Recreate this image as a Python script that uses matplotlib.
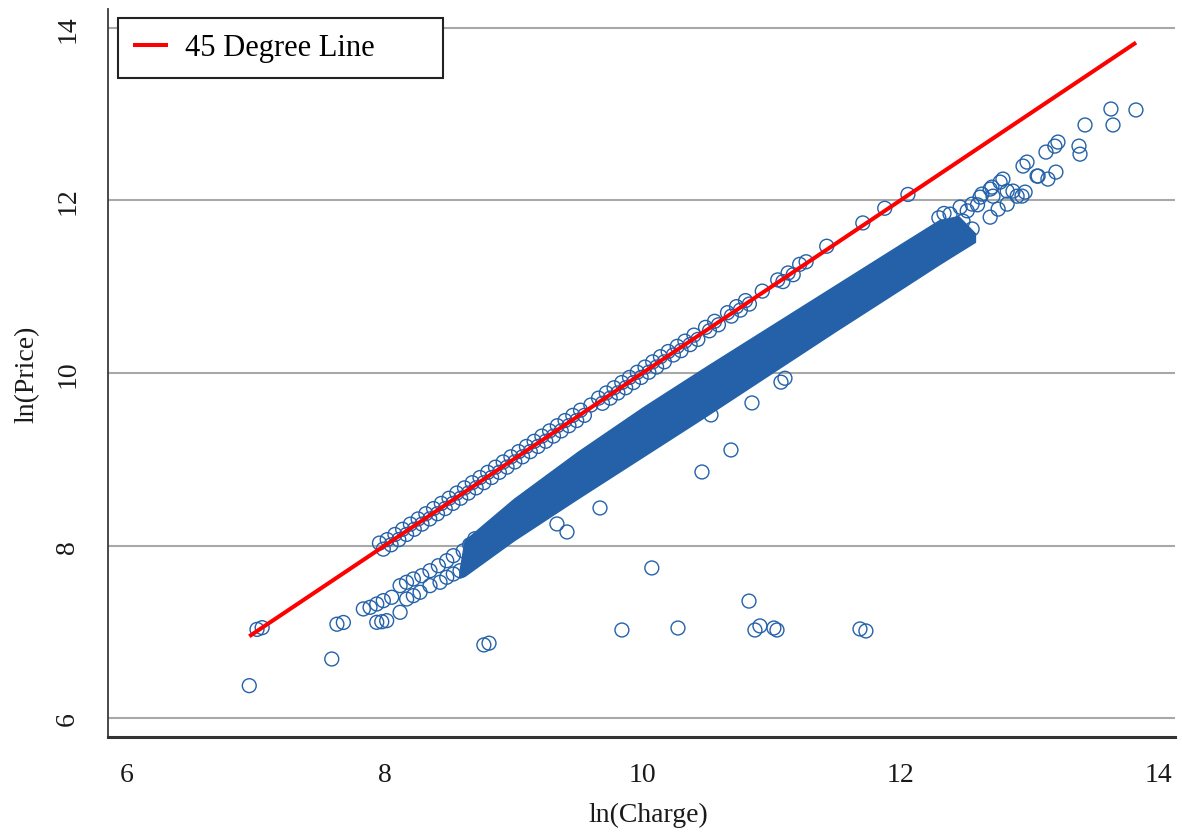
import matplotlib
matplotlib.use("Agg")
import matplotlib.pyplot as plt

plt.rcParams['font.family'] = ['Liberation Serif', 'DejaVu Serif']

# ---------------- data ----------------
# Dense main band: outer envelope of the overlapping circles, ln(Charge) -> ln(Price)
band_x     = [8.58, 8.62, 9.00, 9.50, 10.00, 10.50, 11.00, 11.50, 12.00, 12.30, 12.45, 12.58]
band_upper = [7.70, 8.06, 8.54, 9.09, 9.60, 10.08, 10.55, 11.02, 11.49, 11.77, 11.82, 11.62]
band_lower = [7.63, 7.65, 8.06, 8.55, 9.03, 9.51, 10.00, 10.49, 10.97, 11.26, 11.40, 11.52]

# Points lying on / near the 45 degree line
line_pts_x = [7.01, 7.05,
              7.96, 7.99, 8.02, 8.05, 8.08, 8.11, 8.14, 8.17, 8.20, 8.23, 8.26, 8.29, 8.32, 8.35,
              8.38, 8.41, 8.44, 8.47, 8.50, 8.53, 8.56, 8.59, 8.62, 8.65, 8.68, 8.71, 8.74, 8.77,
              8.80, 8.83, 8.86, 8.89, 8.92, 8.95, 8.98, 9.01, 9.04, 9.07, 9.10, 9.13, 9.16, 9.19,
              9.22, 9.25, 9.28, 9.31, 9.34, 9.37, 9.40, 9.43, 9.46, 9.49, 9.52, 9.55, 9.60, 9.66,
              9.69, 9.72, 9.75, 9.78, 9.81, 9.84, 9.87, 9.90, 9.93, 9.96, 9.99, 10.02, 10.05,
              10.08, 10.11, 10.14, 10.17, 10.20, 10.24, 10.27, 10.30, 10.33, 10.37, 10.40, 10.43,
              10.49, 10.52, 10.56, 10.59, 10.66, 10.69, 10.73, 10.76, 10.80, 10.83, 10.93,
              11.05, 11.09, 11.13, 11.17, 11.22, 11.27, 11.43, 11.71, 11.88, 12.06]
line_pts_y = [7.03, 7.05,
              8.03, 7.96, 8.07, 8.01, 8.13, 8.07, 8.19, 8.13, 8.25, 8.19, 8.31, 8.25, 8.37, 8.31,
              8.43, 8.37, 8.49, 8.43, 8.55, 8.49, 8.61, 8.55, 8.67, 8.61, 8.73, 8.67, 8.79, 8.73,
              8.85, 8.79, 8.91, 8.85, 8.97, 8.91, 9.03, 8.97, 9.09, 9.03, 9.15, 9.09, 9.21, 9.15,
              9.27, 9.21, 9.33, 9.27, 9.39, 9.33, 9.45, 9.39, 9.51, 9.45, 9.57, 9.51, 9.63, 9.71,
              9.65, 9.77, 9.71, 9.83, 9.77, 9.89, 9.83, 9.95, 9.89, 10.01, 9.95, 10.07, 10.01,
              10.13, 10.07, 10.19, 10.13, 10.25, 10.21, 10.31, 10.26, 10.37, 10.33, 10.44, 10.39,
              10.53, 10.49, 10.60, 10.56, 10.70, 10.66, 10.77, 10.73, 10.84, 10.80, 10.95,
              11.08, 11.06, 11.16, 11.14, 11.26, 11.29, 11.47, 11.74, 11.91, 12.07]

# Scattered circles at the lower-left start of the band
low_start_x = [7.835, 7.887, 7.939, 7.990, 8.055, 8.120, 8.170, 8.223, 8.288, 8.352, 8.417, 8.482, 8.533,
               7.939, 7.978, 8.016, 8.120, 8.171, 8.223, 8.275, 8.352, 8.430, 8.482, 8.533, 8.585,
               8.610, 8.660, 8.700]
low_start_y = [7.267, 7.286, 7.324, 7.363, 7.402, 7.537, 7.576, 7.614, 7.652, 7.710, 7.768, 7.826, 7.884,
               7.112, 7.119, 7.131, 7.228, 7.382, 7.421, 7.460, 7.537, 7.576, 7.634, 7.672, 7.710,
               7.940, 8.010, 8.080]

# Scattered circles at the upper-right end of the band
high_end_x = [12.387, 12.465, 12.558, 12.620, 12.698, 12.775, 12.720, 12.830, 12.907, 12.969, 12.984,
              13.062, 12.487, 12.558, 12.698, 12.760, 12.830, 12.410, 12.441, 12.634, 12.712, 12.797,
              12.875, 12.945, 12.953, 13.070, 13.146, 13.208, 13.131, 13.200, 13.224, 13.387, 13.395,
              13.434, 13.651, 13.635, 13.829, 12.300, 12.340, 12.520, 12.600]
high_end_y = [11.842, 11.923, 11.958, 12.039, 12.132, 12.213, 12.050, 12.109, 12.050, 12.097, 12.445,
              12.283, 11.761, 11.670, 11.807, 11.900, 11.958, 11.642, 11.573, 12.074, 12.155, 12.248,
              12.109, 12.051, 12.399, 12.283, 12.248, 12.329, 12.561, 12.630, 12.677, 12.630, 12.537,
              12.875, 12.875, 13.060, 13.049, 11.800, 11.850, 11.880, 11.950]

# Isolated outliers
out_x = [6.95, 7.59, 7.63, 7.68, 8.77, 8.81, 9.337, 9.415, 9.671, 10.073, 9.841, 10.276, 10.827,
         10.873, 10.912, 11.020, 11.044, 11.688, 11.734, 10.462, 10.687, 10.850, 10.532, 11.075, 11.106]
out_y = [6.378, 6.687, 7.090, 7.110, 6.850, 6.870, 8.252, 8.159, 8.437, 7.742, 7.023, 7.046, 7.358,
         7.023, 7.070, 7.046, 7.023, 7.035, 7.012, 8.854, 9.109, 9.654, 9.515, 9.895, 9.940]

ref_line = [6.95, 13.83]           # 45 degree line end points (ln Charge = ln Price)

xticks = [6, 8, 10, 12, 14]
yticks = [6, 8, 10, 12, 14]

# ---------------- drawing ----------------
blue = '#2461a8'
fig = plt.figure(figsize=(11.82, 8.37), dpi=100)
ax = fig.add_axes([108 / 1182, 99 / 837, (1175 - 108) / 1182, (827 - 99) / 837])

ax.fill_between(band_x, band_lower, band_upper, facecolor=blue, edgecolor=blue, linewidth=1.0, zorder=2)
mk = dict(s=100, facecolors='none', edgecolors=blue, linewidths=1.0, zorder=3)
ax.scatter(line_pts_x, line_pts_y, **mk)
ax.scatter(low_start_x, low_start_y, **mk)
ax.scatter(high_end_x, high_end_y, **mk)
ax.scatter(out_x, out_y, **mk)

ax.plot(ref_line, ref_line, color='#ff0000', lw=2.9, zorder=4, label='45 Degree Line',
        solid_capstyle='butt')

ax.set_xlim(5.854, 14.132)
ax.set_ylim(5.783, 14.219)
ax.set_xticks(xticks)
ax.set_yticks(yticks)
ax.yaxis.grid(True, color='#a8a8a8', lw=1.5)
ax.set_axisbelow(True)

for s in ['top', 'right']:
    ax.spines[s].set_visible(False)
ax.spines['left'].set_color('#3a3a3a')
ax.spines['left'].set_linewidth(1.3)
ax.spines['bottom'].set_color('#333333')
ax.spines['bottom'].set_linewidth(2.2)

ax.tick_params(axis='both', length=0, labelsize=20, colors='#1a1a1a')
ax.tick_params(axis='x', pad=18)
ax.tick_params(axis='y', pad=20)
for lbl in ax.get_yticklabels():
    lbl.set_rotation(90)
    lbl.set_va('center')

ax.set_xlabel('ln(Charge)', fontsize=20, color='#1a1a1a')
ax.set_ylabel('ln(Price)', fontsize=20, color='#1a1a1a')
ax.xaxis.set_label_coords(0.506, -0.089)
ax.yaxis.set_label_coords(-0.064, 0.5)

leg = ax.legend(loc='upper left',
                bbox_to_anchor=(118 / 1182, 1 - 19 / 837 - 0.01, (443 - 118) / 1182, 0.01),
                bbox_transform=fig.transFigure, mode='expand', borderaxespad=0,
                fontsize=22, handlelength=1.15, handletextpad=0.55, borderpad=0.5,
                fancybox=False, framealpha=1, edgecolor='#222222')
leg.get_frame().set_linewidth(1.5)

fig.savefig('out.png', dpi=100)
